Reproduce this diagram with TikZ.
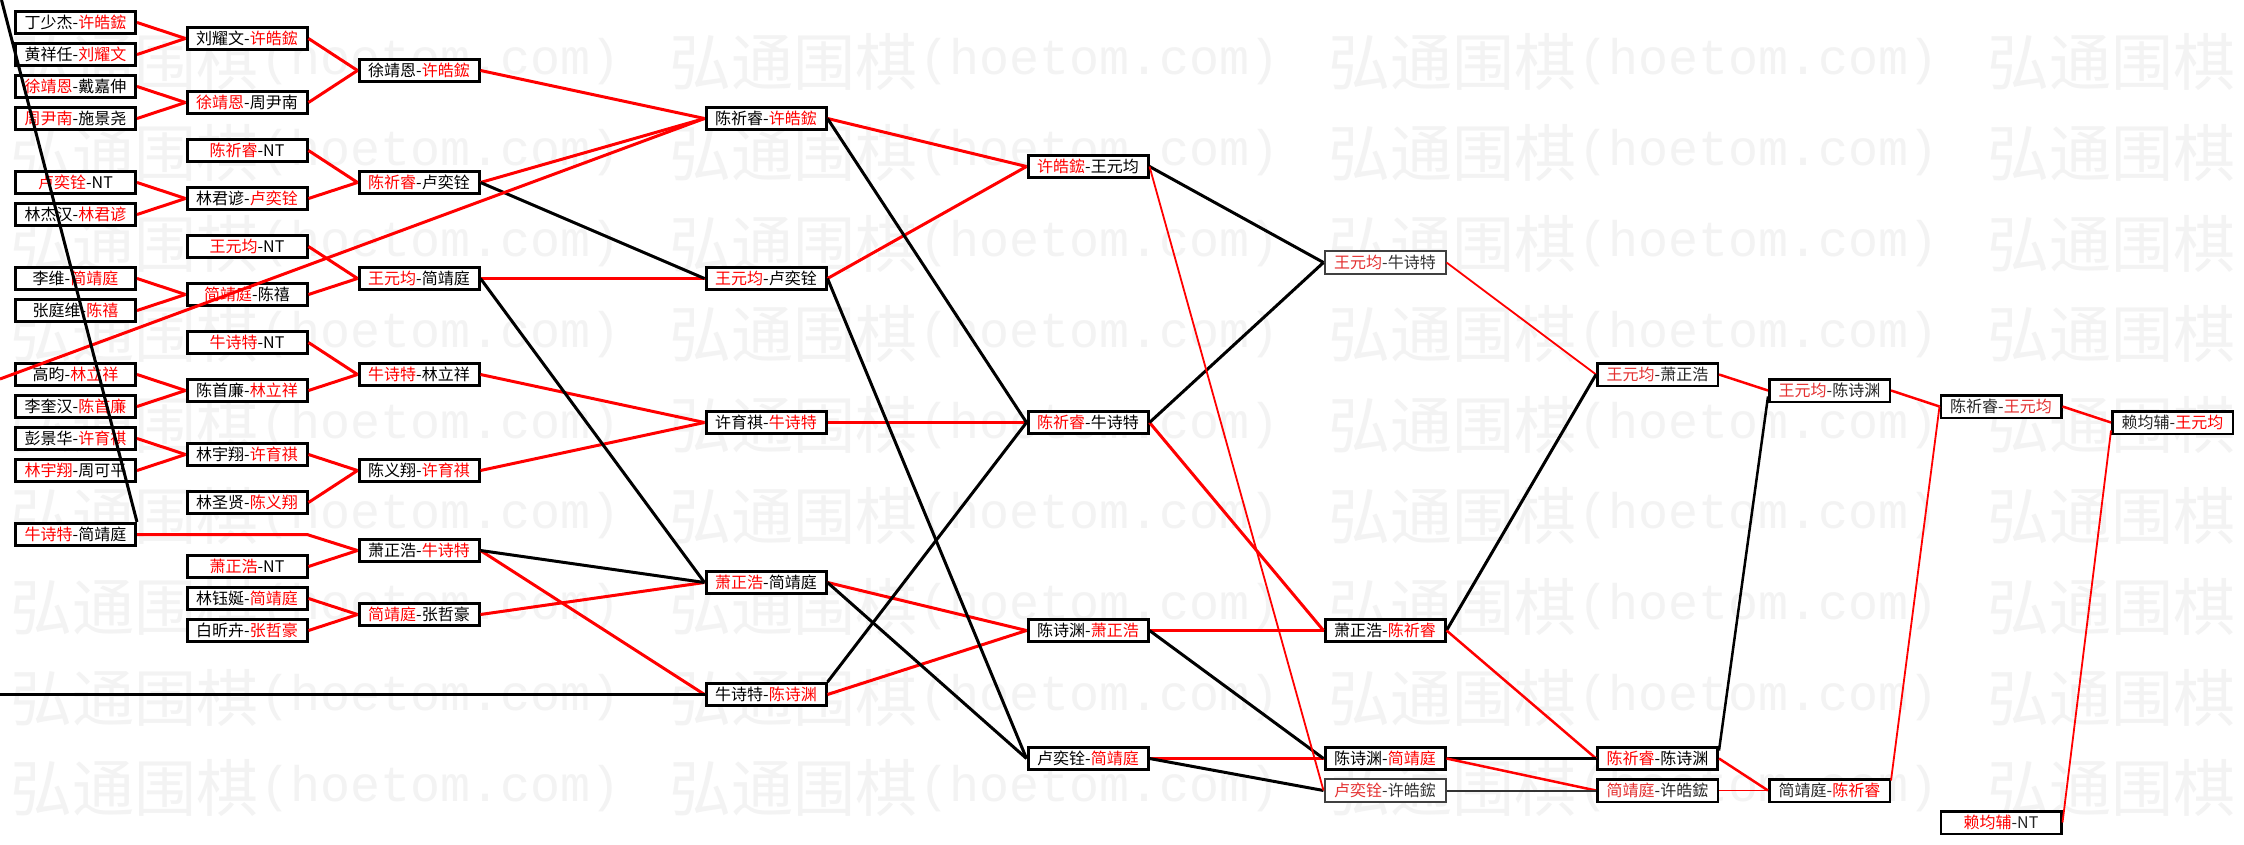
\documentclass[tikz,border=0pt]{standalone}
\usepackage{fontspec}
\setmainfont{Noto Sans CJK SC}
\newfontfamily\wmcjk{Noto Sans CJK SC}
\newfontfamily\wmmono{Liberation Mono}
\definecolor{lred}{RGB}{228,48,48}
\definecolor{wmgray}{RGB}{243,243,243}
\newcommand\Rn[1]{\textcolor{red}{#1}}
\newcommand\Rl[1]{\textcolor{lred}{#1}}
\tikzset{
  bx/.style={draw=black, line width=3pt, fill=white, minimum width=120pt, minimum height=22pt,
    inner sep=0pt, font=\fontsize{16}{16}\selectfont},
  bxl/.style={bx, draw=black!75, line width=2pt, minimum width=121pt, minimum height=23pt, text=black!80},
  bxm/.style={bx, line width=2.5pt, minimum width=120.5pt, minimum height=22.5pt, text=black!85},
  wline/.style={draw=red, line width=3pt},
  lline/.style={draw=black, line width=3pt},
  wmid/.style={draw=red, line width=2.5pt},
  lmid/.style={draw=black, line width=2.5pt},
  wthin/.style={draw=red, line width=1.8pt},
  lthin/.style={draw=black!80, line width=2pt},
  wm/.style={text=wmgray, inner sep=0pt, anchor=west}
}
\begin{document}
\begin{tikzpicture}[x=1pt,y=-1pt]
\useasboundingbox (0,0) rectangle (2244,845);
\fill[white] (0,0) rectangle (2244,845);
% watermark
\foreach \k in {0,...,8}{
  \foreach \j in {0,...,3}{
    \node[wm] (wmc-\k-\j) at ({10+659*\j},{62+90.8*\k})
      {\wmcjk\fontsize{62}{62}\selectfont 弘通围棋};
  }
  \foreach \j in {0,...,2}{
    \node[wm] (wml-\k-\j) at ({260+659*\j},{62+90.8*\k})
      {\wmmono\fontsize{50}{50}\selectfont (hoetom.com)};
  }
}
% column 1
\node[bx] (a1)  at (75.5,22.5)  {丁少杰-\Rn{许皓鋐}};
\node[bx] (a2)  at (75.5,54.5)  {黄祥任-\Rn{刘耀文}};
\node[bx] (a3)  at (75.5,86.5)  {\Rn{徐靖恩}-戴嘉伸};
\node[bx] (a4)  at (75.5,118.5) {\Rn{周尹南}-施景尧};
\node[bx] (a5)  at (75.5,182.5) {\Rn{卢奕铨}-NT};
\node[bx] (a6)  at (75.5,214.5) {林杰汉-\Rn{林君谚}};
\node[bx] (a7)  at (75.5,278.5) {李维-\Rn{简靖庭}};
\node[bx] (a8)  at (75.5,310.5) {张庭维-\Rn{陈禧}};
\node[bx] (a9)  at (75.5,374.5) {高昀-\Rn{林立祥}};
\node[bx] (a10) at (75.5,406.5) {李奎汉-\Rn{陈首廉}};
\node[bx] (a11) at (75.5,438.5) {彭景华-\Rn{许育祺}};
\node[bx] (a12) at (75.5,470.5) {\Rn{林宇翔}-周可平};
\node[bx] (a13) at (75.5,534.5) {\Rn{牛诗特}-简靖庭};
% column 2
\node[bx] (b1)  at (247,38.5)  {刘耀文-\Rn{许皓鋐}};
\node[bx] (b2)  at (247,102.5) {\Rn{徐靖恩}-周尹南};
\node[bx] (b3)  at (247,150.5) {\Rn{陈祈睿}-NT};
\node[bx] (b4)  at (247,198.5) {林君谚-\Rn{卢奕铨}};
\node[bx] (b5)  at (247,246.5) {\Rn{王元均}-NT};
\node[bx] (b6)  at (247,294.5) {\Rn{简靖庭}-陈禧};
\node[bx] (b7)  at (247,342.5) {\Rn{牛诗特}-NT};
\node[bx] (b8)  at (247,390.5) {陈首廉-\Rn{林立祥}};
\node[bx] (b9)  at (247,454.5) {林宇翔-\Rn{许育祺}};
\node[bx] (b10) at (247,502.5) {林圣贤-\Rn{陈义翔}};
\node[bx] (b11) at (247,566.5) {\Rn{萧正浩}-NT};
\node[bx] (b12) at (247,598.5) {林钰娫-\Rn{简靖庭}};
\node[bx] (b13) at (247,630.5) {白昕卉-\Rn{张哲豪}};
% column 3
\node[bx] (c1) at (419,70.5)  {徐靖恩-\Rn{许皓鋐}};
\node[bx] (c2) at (419,182.5) {\Rn{陈祈睿}-卢奕铨};
\node[bx] (c3) at (419,278.5) {\Rn{王元均}-简靖庭};
\node[bx] (c4) at (419,374.5) {\Rn{牛诗特}-林立祥};
\node[bx] (c5) at (419,470.5) {陈义翔-\Rn{许育祺}};
\node[bx] (c6) at (419,550.5) {萧正浩-\Rn{牛诗特}};
\node[bx] (c7) at (419,614.5) {\Rn{简靖庭}-张哲豪};
% column 4
\node[bx] (d1) at (766,118.5) {陈祈睿-\Rn{许皓鋐}};
\node[bx] (d2) at (766,278.5) {\Rn{王元均}-卢奕铨};
\node[bx] (d3) at (766,422.5) {许育祺-\Rn{牛诗特}};
\node[bx] (d4) at (766,582.5) {\Rn{萧正浩}-简靖庭};
\node[bx] (d5) at (766,694.5) {牛诗特-\Rn{陈诗渊}};
% column 5
\node[bx] (e1) at (1088,166.5) {\Rn{许皓鋐}-王元均};
\node[bx] (e2) at (1088,422.5) {\Rn{陈祈睿}-牛诗特};
\node[bx] (e3) at (1088,630.5) {陈诗渊-\Rn{萧正浩}};
\node[bx] (e4) at (1088,758.5) {卢奕铨-\Rn{简靖庭}};
% column 6
\node[bxl] (f1) at (1385,262.5) {\Rl{王元均}-牛诗特};
\node[bx]  (f2) at (1385,630.5) {萧正浩-\Rn{陈祈睿}};
\node[bx]  (f3) at (1385,758.5) {陈诗渊-\Rn{简靖庭}};
\node[bxl] (f4) at (1385,790.5) {\Rl{卢奕铨}-许皓鋐};
% column 7
\node[bxm] (g1) at (1657.5,374.5) {\Rl{王元均}-萧正浩};
\node[bx]  (g2) at (1657.5,758.5) {\Rn{陈祈睿}-陈诗渊};
\node[bxm] (g3) at (1657.5,790.5) {\Rl{简靖庭}-许皓鋐};
% column 8
\node[bxm] (h1) at (1829.5,390.5) {\Rl{王元均}-陈诗渊};
\node[bxm] (h2) at (1829.5,790.5) {简靖庭-\Rn{陈祈睿}};
% column 9
\node[bxm] (i1) at (2001,406.5) {陈祈睿-\Rl{王元均}};
\node[bxm] (i2) at (2001,822.5) {\Rn{赖均辅}-NT};
% column 10
\node[bxm] (j1) at (2172.5,422.5) {赖均辅-\Rn{王元均}};
% free ends
\coordinate (L1) at (0,379);
\coordinate (L2) at (0,694.5);
\coordinate (L3) at (1.5,0);
\coordinate (kink) at (307,534.5);
% connectors col1 -> col2
\foreach \s/\t in {a1/b1,a2/b1,a3/b2,a4/b2,a5/b4,a6/b4,a7/b6,a8/b6,a9/b8,a10/b8,a11/b9,a12/b9}
  \draw[wline] (\s.east) -- (\t.west);
\draw[wline] (a13.east) -- (kink) -- (c6.west);
% col2 -> col3
\foreach \s/\t in {b1/c1,b2/c1,b3/c2,b4/c2,b5/c3,b6/c3,b7/c4,b8/c4,b9/c5,b10/c5,b11/c6,b12/c7,b13/c7}
  \draw[wline] (\s.east) -- (\t.west);
% col3 -> col4
\foreach \s/\t in {c1/d1,c2/d1,c3/d2,c4/d3,c5/d3,c6/d5,c7/d4}
  \draw[wline] (\s.east) -- (\t.west);
\foreach \s/\t in {c2/d2,c3/d4,c6/d4}
  \draw[lline] (\s.east) -- (\t.west);
% col4 -> col5
\foreach \s/\t in {d1/e1,d2/e1,d3/e2,d4/e3,d5/e3}
  \draw[wline] (\s.east) -- (\t.west);
\foreach \s/\t in {d1/e2,d2/e4,d4/e4}
  \draw[lline] (\s.east) -- (\t.west);
\draw[lline] (d5.north east) -- (e2.west);
% col5 -> col6
\foreach \s/\t in {e2/f2,e3/f2,e4/f3}
  \draw[wline] (\s.east) -- (\t.west);
\foreach \s/\t in {e1/f1,e2/f1,e3/f3,e4/f4}
  \draw[lline] (\s.east) -- (\t.west);
\draw[wthin] (e1.east) -- (f4.west);
% col6 -> col7
\draw[wthin] (f1.east) -- (g1.west);
\draw[lline] (f2.east) -- (g1.west);
\draw[wmid] (f2.east) -- (g2.west);
\draw[lline] (f3.east) -- (g2.west);
\draw[wmid] (f3.east) -- (g3.west);
\draw[lthin] (f4.east) -- (g3.west);
% col7 -> col8
\draw[wmid] (g1.east) -- (h1.west);
\draw[lmid] ([yshift=8pt]g2.east) -- ([yshift=-6pt]h1.west);
\draw[wmid] (g2.east) -- (h2.west);
\draw[wthin] (g3.east) -- (h2.west);
% col8 -> col9
\draw[wmid] (h1.east) -- (i1.west);
\draw[wthin] ([yshift=10pt]h2.east) -- (i1.west);
% col9 -> col10
\draw[wmid] (i1.east) -- (j1.west);
\draw[wthin] (i2.east) -- ([yshift=-8pt]j1.west);
% stray lines
\draw[wline] (L1) -- (d1.west);
\draw[lline] (L2) -- (d5.west);
\draw[lline] (L3) -- (a13.north east);
\end{tikzpicture}
\end{document}
